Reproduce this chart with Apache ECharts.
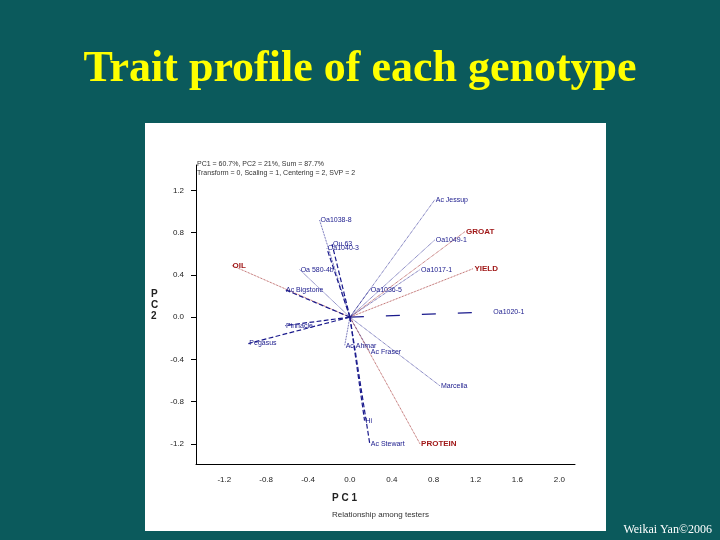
<!DOCTYPE html><html><head><meta charset="utf-8"><script src="https://cdn.jsdelivr.net/npm/echarts@6/dist/echarts.min.js"></script>
<style>html,body{margin:0;padding:0}#c{width:720px;height:540px}</style></head><body><div id="c"></div><script>
const names=['Ac Jessup','GROAT','Oa1049-1','YIELD','Oa1017-1','Oa1036-5','Oa1020-1','OIL','Ac Bigstone','Oa1038-8','Ou.63','Oa1040-3','Oa 580-4b','Pinnacle','Pegasus','Ac Ahmar','Ac Fraser','Marcella','PROTEIN','Hi','Ac Stewart'];
const pc1=[0.81,1.10,0.81,1.18,0.67,0.19,1.36,-1.13,-0.62,-0.29,-0.17,-0.22,-0.48,-0.62,-0.97,-0.05,0.19,0.86,0.67,0.14,0.19];
const pc2=[1.11,0.81,0.73,0.46,0.45,0.26,0.05,0.49,0.26,0.92,0.69,0.65,0.45,-0.08,-0.25,-0.27,-0.33,-0.65,-1.20,-0.98,-1.20];
const isTrait=[0,1,0,1,0,0,0,1,0,0,0,0,0,0,0,0,0,0,1,0,0];
const ltype=['dotted','dotted','dotted','dotted','dotted','dotted',[14,22],'dotted','dashed','dotted','dashed','dashed','dotted','dashed','dashed','dotted','dotted','dotted','dotted','dashed','dashed'];
const xTicks=[-1.2,-0.8,-0.4,0.0,0.4,0.8,1.2,1.6,2.0];
const yTicks=[-1.2,-0.8,-0.4,0.0,0.4,0.8,1.2];
const ch=echarts.init(document.getElementById('c'));
const series=names.map((n,i)=>({type:'line',silent:true,symbol:'none',
 data:[[0,0],[pc1[i],pc2[i]]],
 lineStyle:{color:isTrait[i]?'#9b1a1a':'#1a1a8c',width:isTrait[i]?0.8:(ltype[i]==='dashed'||Array.isArray(ltype[i])?1.2:0.8),type:ltype[i]},
 endLabel:{show:true,formatter:n,fontSize:isTrait[i]?8:7,fontWeight:isTrait[i]?'bold':'normal',color:isTrait[i]?'#a01818':'#1a1a8c',distance:1,fontFamily:'Arial'}
}));
ch.setOption({backgroundColor:'#0b5a5c',animation:false,
 title:{text:'Trait profile of each genotype',left:'center',top:43,textStyle:{color:'#ffff00',fontFamily:'Liberation Serif',fontWeight:'bold',fontSize:44}},
 graphic:[
  {type:'rect',shape:{x:145,y:123,width:461,height:408},style:{fill:'#fff'},z:-10},
  {type:'text',left:197,top:160,style:{text:'PC1 = 60.7%, PC2 = 21%, Sum = 87.7%\nTransform = 0, Scaling = 1, Centering = 2, SVP = 2',fontSize:7,fill:'#333',lineHeight:9,fontFamily:'Arial'}},
  {type:'text',left:151,top:289,style:{text:'P\nC\n2',fontSize:10,fontWeight:'bold',fill:'#222',lineHeight:11,fontFamily:'Arial'}},
  {type:'text',left:332,top:493,style:{text:'P C 1',fontSize:10,fontWeight:'bold',fill:'#222',fontFamily:'Arial'}},
  {type:'text',left:332,top:511,style:{text:'Relationship among testers',fontSize:8,fill:'#333',fontFamily:'Arial'}},
  {type:'text',right:8,bottom:4,style:{text:'Weikai Yan©2006',fontSize:12,fill:'#fff',fontFamily:'Liberation Serif'}}
 ],
 grid:{left:196,right:145,top:165,bottom:76},
 xAxis:{type:'value',min:-1.47,max:2.15,splitLine:{show:false},axisLine:{onZero:false,lineStyle:{color:'#000'}},
  axisTick:{show:false},axisLabel:{customValues:xTicks,formatter:v=>v.toFixed(1),fontSize:8,color:'#222',margin:12}},
 yAxis:{type:'value',min:-1.39,max:1.44,splitLine:{show:false},axisLine:{show:true,onZero:false,lineStyle:{color:'#000'}},
  axisTick:{show:true,customValues:yTicks,length:5},axisLabel:{customValues:yTicks,formatter:v=>v.toFixed(1),fontSize:8,color:'#222',margin:12}},
 series:series
});
</script></body></html>
